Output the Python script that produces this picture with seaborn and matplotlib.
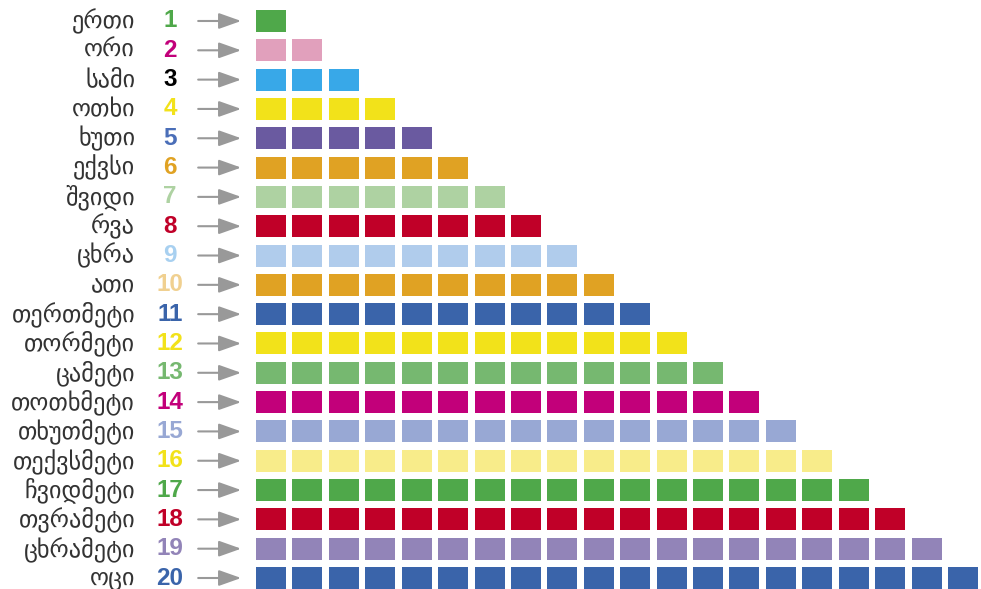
import matplotlib
matplotlib.use("Agg")
import matplotlib.pyplot as plt
import seaborn as sns
import pandas as pd

# georgian number words 1..20
words = ['ერთი', 'ორი', 'სამი', 'ოთხი', 'ხუთი', 'ექვსი', 'შვიდი', 'რვა', 'ცხრა', 'ათი',
         'თერთმეტი', 'თორმეტი', 'ცამეტი', 'თოთხმეტი', 'თხუთმეტი', 'თექვსმეტი',
         'ჩვიდმეტი', 'თვრამეტი', 'ცხრამეტი', 'ოცი']
numbers = list(range(1, 21))

square_colors = ['#4FA84A', '#E1A0BC', '#38A8E8', '#F2E21A', '#6A5AA0', '#E0A223',
                 '#AED2A2', '#C00028', '#B0CCEC', '#E0A223', '#3A64AA', '#F2E21A',
                 '#76B870', '#C2007A', '#98A8D4', '#F8EC8A', '#4FA84A', '#C00028',
                 '#9284B8', '#3A64AA']
number_colors = ['#4FA84A', '#C2007A', '#000000', '#F2E21A', '#4A6EB8', '#E0A223',
                 '#AED2A2', '#C00028', '#A8D0F0', '#F0D090', '#3A64AA', '#F2E21A',
                 '#76B870', '#C2007A', '#98A8D4', '#F2E21A', '#4FA84A', '#C00028',
                 '#9284B8', '#3A64AA']

# one cell per unit
cells = []
for n in numbers:
    for c in range(1, n + 1):
        cells.append([n, c])
df = pd.DataFrame(cells, columns=['row', 'col'])
palette = {n: square_colors[i] for i, n in enumerate(numbers)}

fig = plt.figure(figsize=(9.81, 5.89), dpi=100)
ax = fig.add_axes([0, 0, 1, 1])

rect = [(-1, -0.733), (1, -0.733), (1, 0.733), (-1, 0.733)]
sns.scatterplot(data=df, x='col', y='row', hue='row', palette=palette,
                marker=rect, s=21.6 ** 2, linewidth=0, legend=False, ax=ax)

for i, n in enumerate(numbers):
    ax.text(-2.73, n, words[i], ha='right', va='center', fontsize=17.5,
            family='DejaVu Sans', color='#333333')
    ax.text(-1.77, n, str(n), ha='center', va='center', fontsize=17.5,
            family='Liberation Sans', fontweight='bold', color=number_colors[i])
    ax.annotate('', xy=(0.18, n), xytext=(-1.0, n),
                arrowprops=dict(arrowstyle='-|>,head_length=0.62,head_width=0.22',
                                color='#999999', lw=1.5,
                                mutation_scale=22, shrinkA=0, shrinkB=0))

ax.set_xlim(-6.441, 20.495)
ax.set_ylim(20.375, 0.284)
ax.axis('off')

plt.savefig('out.png', dpi=100)
